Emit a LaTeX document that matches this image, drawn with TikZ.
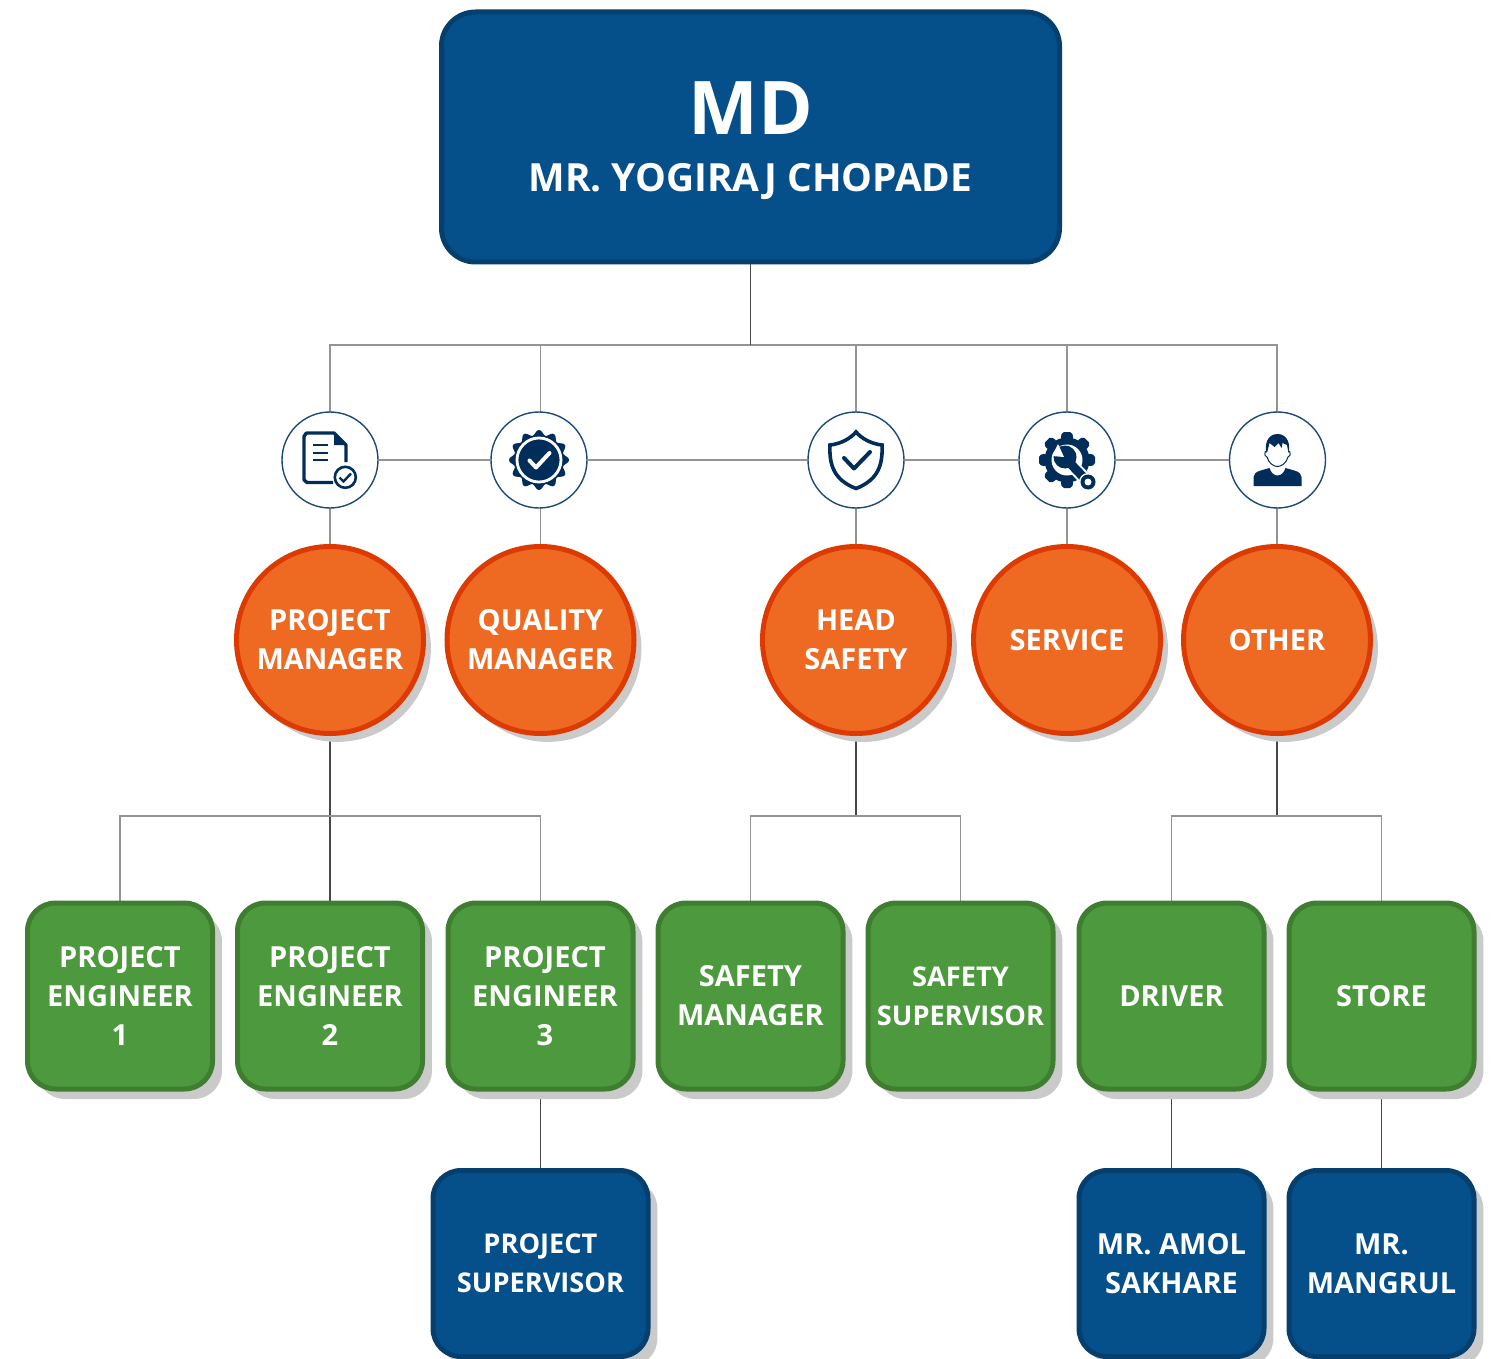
\documentclass[tikz,border=0pt]{standalone}
\usepackage{fontspec}
\setmainfont{Open Sans}
\usetikzlibrary{shadows,backgrounds}

\definecolor{navy}{HTML}{002D5A}
\definecolor{ringblue}{HTML}{1D4B78}
\definecolor{deepblue}{HTML}{05508A}
\definecolor{deepblueline}{HTML}{043F6E}
\definecolor{leaf}{HTML}{4C9A3D}
\definecolor{leafline}{HTML}{3F7D31}
\definecolor{tangerine}{HTML}{EE6A22}
\definecolor{tangerineline}{HTML}{DC3A00}
\definecolor{shadowgrey}{HTML}{CACACA}

\begin{document}
\begin{tikzpicture}[x=0.5pt, y=-0.5pt,
    every node/.append style={text=white, align=center, font=\fontsize{14.5}{19.5}\selectfont\bfseries},
    narrowtext/.style={font=\fontsize{13.6}{19.5}\selectfont\bfseries},
    plainbox/.style={draw=deepblueline, fill=deepblue, line width=2.5pt, rounded corners=14pt, minimum width=92.5pt, minimum height=93pt, inner sep=0pt},
    boxshadow/.style={drop shadow={shadow xshift=4.7pt, shadow yshift=-5pt, fill=shadowgrey, opacity=1}},
    greenbox/.style={plainbox, boxshadow, draw=leafline, fill=leaf},
    bluebox/.style={plainbox, boxshadow},
    roundbox/.style={draw=tangerineline, fill=tangerine, circle, line width=2.5pt, minimum size=93.5pt, inner sep=0pt,
      drop shadow={shadow xshift=3.7pt, shadow yshift=-4.2pt, fill=shadowgrey, opacity=1}},
    iconring/.style={circle, draw=ringblue, fill=white, line width=0.7pt, minimum size=48pt, inner sep=0pt},
    branch/.style={draw=black!42, line width=0.7pt},
    trunk/.style={draw=black!72, line width=0.8pt}]
  \useasboundingbox (0,0) rectangle (1496,1359);

  \node[plainbox, minimum width=309pt, minimum height=125pt, rounded corners=17pt] (md) at (750.5,137)
    {\rule{0pt}{30pt}\fontsize{37}{46}\selectfont MD\\[9pt]\fontsize{19.4}{24}\selectfont MR. YOGIRAJ CHOPADE};

  \node[iconring] (docicon) at (330,460) {};
  \node[iconring] (sealicon) at (539,460) {};
  \node[iconring] (shieldicon) at (856,460) {};
  \node[iconring] (gearicon) at (1067,460) {};
  \node[iconring] (manicon) at (1277.5,460) {};

  \node[roundbox] (pm) at (330,640) {PROJECT\\MANAGER};
  \node[roundbox] (qm) at (540.5,640) {QUALITY\\MANAGER};
  \node[roundbox] (hs) at (856,640) {HEAD\\SAFETY};
  \node[roundbox] (svc) at (1067,640) {SERVICE};
  \node[roundbox] (oth) at (1277,640) {OTHER};

  \node[greenbox] (eng1) at (120,996) {PROJECT\\ENGINEER\\1};
  \node[greenbox] (eng2) at (330,996) {PROJECT\\ENGINEER\\2};
  \node[greenbox] (eng3) at (540.5,996) {\hspace*{4.5pt}PROJECT\\\hspace*{4.5pt}ENGINEER\\\hspace*{4.5pt}3};
  \node[greenbox] (sman) at (750.5,996) {SAFETY\\MANAGER};
  \node[greenbox, narrowtext] (ssup) at (960.5,996) {SAFETY\\SUPERVISOR};
  \node[greenbox] (drv) at (1171.5,996) {DRIVER};
  \node[greenbox] (sto) at (1381.5,996) {STORE};

  \node[bluebox, narrowtext, minimum width=107.5pt] (psup) at (540.5,1263.5) {PROJECT\\SUPERVISOR};
  \node[bluebox] (amol) at (1171.5,1263.5) {MR. AMOL\\SAKHARE};
  \node[bluebox] (mang) at (1381.5,1263.5) {MR.\\MANGRUL};

  \coordinate (topbar) at (750.5,345);
  \coordinate (pmbar) at (330,816);
  \coordinate (hsbar) at (856,816);
  \coordinate (othbar) at (1277,816);

  \begin{pgfonlayer}{background}
    \foreach \rb in {pm, qm, hs, svc, oth}{
      \draw[branch] (\rb.north) |- (topbar);
    }
    \draw[branch] (docicon) -- (sealicon) -- (shieldicon) -- (gearicon) -- (manicon);
    \draw[trunk] (md) -- (topbar);
    \draw[trunk] (pm) -- (eng2);
    \draw[trunk] (hs) -- (hsbar);
    \draw[trunk] (oth) -- (othbar);
    \draw[trunk] (eng3) -- (psup);
    \draw[trunk] (drv) -- (amol);
    \draw[trunk] (sto) -- (mang);
    \foreach \lf/\jn in {eng1/pmbar, eng3/pmbar, sman/hsbar, ssup/hsbar, drv/othbar, sto/othbar}{
      \draw[branch] (\lf.north) |- (\jn);
    }
  \end{pgfonlayer}

  % document
  \begin{scope}[shift={(docicon.center)}]
    \draw[navy, line width=1.7pt, line join=round] (3,22.5) -- (-23,22.5) to[out=180,in=90] (-26,20) -- (-26,-24) to[out=-90,in=180] (-23,-27) -- (4,-27) -- (16,-15) -- (16,2);
    \fill[navy] (4,-27) -- (16,-15) -- (4,-15) -- cycle;
    \foreach \yy in {-15,-7.3,0.3} \draw[navy, line width=1pt] (-17,\yy) -- (-2,\yy);
    \draw[navy, line width=1.3pt, fill=white] (15.3,17.3) circle (10.5);
    \draw[navy, line width=1.2pt] (9.5,17.5) -- (13.5,21.5) -- (21,13.5);
  \end{scope}

  % seal
  \begin{scope}[shift={(sealicon.center)}]
    \fill[navy] plot[domain=0:360, samples=121, smooth] ({(27.5+2.5*cos(12*\x))*cos(\x)},{(27.5+2.5*cos(12*\x))*sin(\x)}) -- cycle;
    \draw[white, line width=1.4pt] (0,0) circle (22);
    \draw[white, line width=2pt, line cap=round, line join=round] (-9.5,0.5) -- (-3,7.5) -- (10.5,-7);
  \end{scope}

  % shield
  \begin{scope}[shift={(shieldicon.center)}]
    \draw[navy, line width=1.8pt, line join=miter] (0,-28) .. controls (6,-21) and (16,-16) .. (26,-15) .. controls (27,5) and (22,20) .. (0,28.5) .. controls (-22,20) and (-27,5) .. (-26,-15) .. controls (-16,-16) and (-6,-21) .. (0,-28) -- cycle;
    \draw[navy, line width=2pt, line cap=round, line join=round] (-12,-2) -- (-2,8.5) -- (14,-8);
  \end{scope}

  % gear with spanner
  \begin{scope}[shift={(gearicon.center)}]
    \foreach \ang in {0,45,...,315}{
      \fill[navy, rotate=\ang, rounded corners=1pt] (-6.5,-21) -- (-5,-28) -- (5,-28) -- (6.5,-21) -- cycle;
    }
    \fill[navy] (0,0) circle (22.5);
    \fill[white] (0,0) circle (15.5);
    \draw[white, line width=6.5pt] (0,0) -- (21,22);
    \draw[navy, line width=4.5pt] (-1,-1) -- (21,22);
    \fill[navy] (-2,-3) circle (11.5);
    \fill[white] (-3,-3) -- (-15,-4) -- (-9,-16) -- cycle;
    \fill[white] (21,22) circle (9);
    \fill[navy] (21,22) circle (7.5);
    \fill[white] (21,22) circle (3.5);
  \end{scope}

  % person
  \begin{scope}[shift={(manicon.center)}]
    \fill[navy] (-24,26) -- (-24,17) .. controls (-24,11) and (-14,10) .. (-8,8) .. controls (-5,18) and (5,18) .. (8,8) .. controls (14,10) and (24,11) .. (24,17) -- (24,26) -- cycle;
    \draw[navy, line width=0.5pt, fill=white] (-12,-9) .. controls (-13.5,-5) and (-12,-3) .. (-10.5,-3) .. controls (-9,3) and (-4,6.5) .. (0,6.5) .. controls (4,6.5) and (9,3) .. (10.5,-3) .. controls (12,-3) and (13.5,-5) .. (12,-9);
    \fill[navy] (-11,-7) .. controls (-13,-14) and (-11,-26) .. (0,-26) .. controls (11,-26) and (13,-14) .. (11,-7) -- (9.5,-15) -- (5,-17) -- (4,-12) -- (1,-17) -- (-3,-13) -- (-8,-17) -- (-10,-9) -- cycle;
  \end{scope}
\end{tikzpicture}
\end{document}
